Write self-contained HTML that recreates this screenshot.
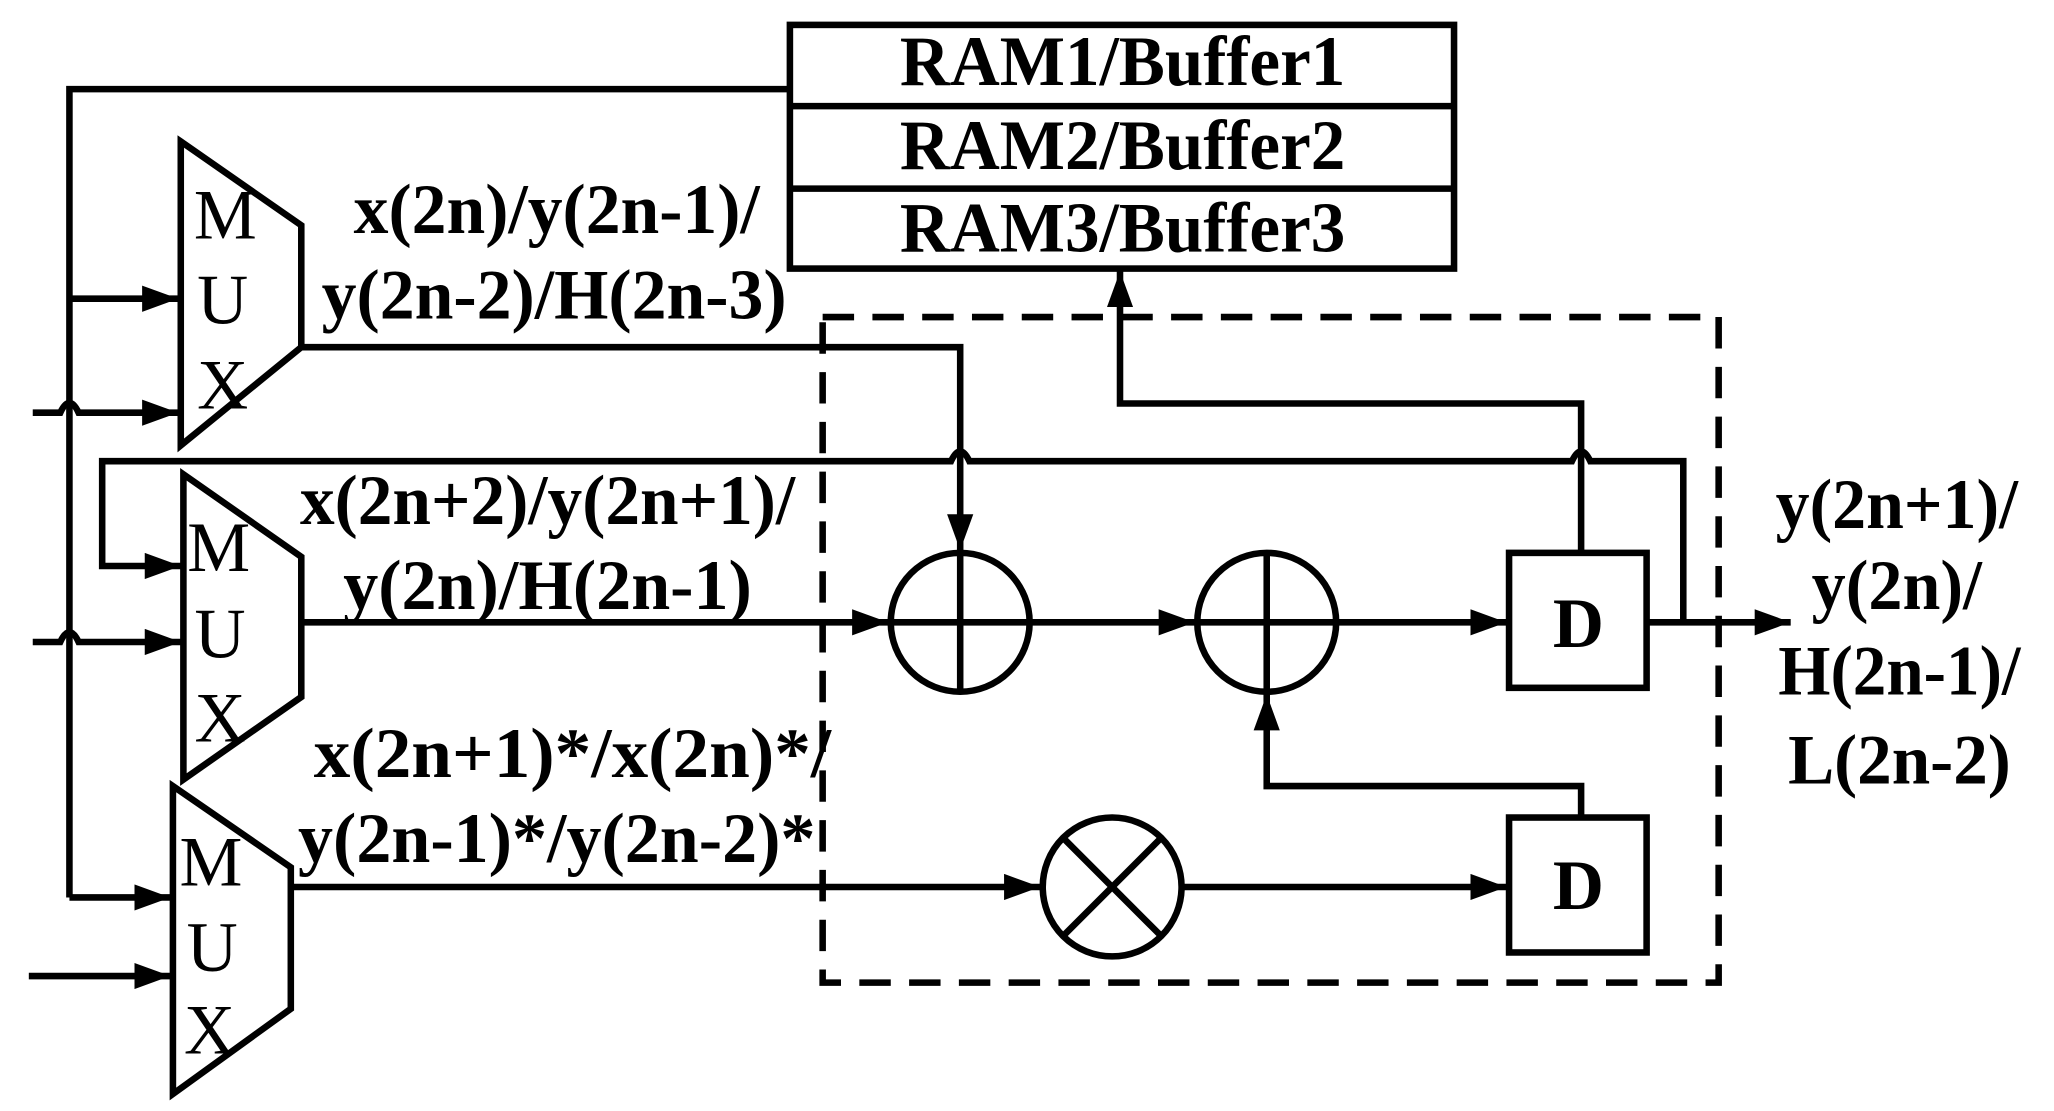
<!DOCTYPE html>
<html><head><meta charset="utf-8"><style>html,body{margin:0;padding:0;background:#fff}svg{display:block}
text{font-family:"Liberation Serif","Times New Roman",serif;font-weight:bold}
.r{font-weight:normal}</style></head>
<body>
<svg width="2054" height="1111" viewBox="0 0 1568 848" preserveAspectRatio="none" xmlns="http://www.w3.org/2000/svg">
<defs>
<marker id="a" markerWidth="5.5" markerHeight="4" refX="5.5" refY="2" orient="auto" markerUnits="strokeWidth"><path d="M0,0 L5.5,2 L0,4 Z" fill="#000"/></marker>
</defs>
<g fill="none" stroke="#000" stroke-width="5">
<rect x="603" y="19" width="507" height="186"/>
<line x1="603" y1="81" x2="1110" y2="81"/>
<line x1="603" y1="144" x2="1110" y2="144"/>
<rect x="628" y="242" width="684" height="508" stroke-dasharray="24,14"/>
<polygon points="138,108 230,172 230,265 138,340"/>
<polygon points="140,362 230,425 230,532 140,595"/>
<polygon points="132,600 222,662 222,770 132,835"/>
<polyline points="603,68 53,68 53,685"/>
<line x1="53" y1="228" x2="136" y2="228" marker-end="url(#a)"/>
<line x1="53" y1="685" x2="130" y2="685" marker-end="url(#a)"/>
<path d="M25,315 L46,315 Q53,300 60,315 L136,315" marker-end="url(#a)"/>
<path d="M25,490 L46,490 Q53,475 60,490 L138,490" marker-end="url(#a)"/>
<line x1="22" y1="745" x2="130" y2="745" marker-end="url(#a)"/>
<path d="M1285,475 L1285,352 L1214,352 Q1207,337 1200,352 L740,352 Q733,337 726,352 L78,352 L78,432 L138,432" marker-end="url(#a)"/>
<polyline points="230,265 733,265 733,420" marker-end="url(#a)"/>
<line x1="230" y1="475" x2="678" y2="475" marker-end="url(#a)"/>
<circle cx="733" cy="475" r="53"/>
<line x1="680" y1="475" x2="786" y2="475"/><line x1="733" y1="422" x2="733" y2="528"/>
<circle cx="967" cy="475" r="53"/>
<line x1="914" y1="475" x2="1020" y2="475"/><line x1="967" y1="422" x2="967" y2="528"/>
<line x1="786" y1="475" x2="912" y2="475" marker-end="url(#a)"/>
<line x1="1020" y1="475" x2="1150" y2="475" marker-end="url(#a)"/>
<rect x="1152" y="422" width="105" height="103"/>
<line x1="1257" y1="475" x2="1367" y2="475" marker-end="url(#a)"/>
<polyline points="1207,422 1207,308 855,308 855,207" marker-end="url(#a)"/>
<line x1="222" y1="677" x2="794" y2="677" marker-end="url(#a)"/>
<circle cx="849" cy="677" r="53"/>
<line x1="812" y1="640" x2="886" y2="714"/><line x1="886" y1="640" x2="812" y2="714"/>
<line x1="902" y1="677" x2="1150" y2="677" marker-end="url(#a)"/>
<rect x="1152" y="624" width="105" height="103"/>
<polyline points="1207,624 1207,600 967,600 967,530" marker-end="url(#a)"/>
</g>
<g style="font-size:54px" text-anchor="middle" fill="#000">
<text x="857" y="65" textLength="340" lengthAdjust="spacingAndGlyphs">RAM1/Buffer1</text>
<text x="857" y="129" textLength="340" lengthAdjust="spacingAndGlyphs">RAM2/Buffer2</text>
<text x="857" y="192" textLength="340" lengthAdjust="spacingAndGlyphs">RAM3/Buffer3</text>
<text class="r" x="172" y="182">M</text><text class="r" x="170" y="247">U</text><text class="r" x="170" y="312">X</text>
<text class="r" x="167" y="436">M</text><text class="r" x="168" y="502">U</text><text class="r" x="168" y="566">X</text>
<text class="r" x="161" y="676">M</text><text class="r" x="162" y="741">U</text><text class="r" x="160" y="804">X</text>
<text x="425" y="178" textLength="310" lengthAdjust="spacingAndGlyphs">x(2n)/y(2n-1)/</text>
<text x="423" y="243" textLength="355" lengthAdjust="spacingAndGlyphs">y(2n-2)/H(2n-3)</text>
<text x="418" y="400" textLength="378" lengthAdjust="spacingAndGlyphs">x(2n+2)/y(2n+1)/</text>
<text x="418" y="465" textLength="312" lengthAdjust="spacingAndGlyphs">y(2n)/H(2n-1)</text>
<text x="437" y="593" textLength="395" lengthAdjust="spacingAndGlyphs">x(2n+1)*/x(2n)*/</text>
<text x="425" y="658" textLength="395" lengthAdjust="spacingAndGlyphs">y(2n-1)*/y(2n-2)*</text>
<text x="1448" y="403" textLength="185" lengthAdjust="spacingAndGlyphs">y(2n+1)/</text>
<text x="1448" y="465" textLength="130" lengthAdjust="spacingAndGlyphs">y(2n)/</text>
<text x="1450" y="530" textLength="185" lengthAdjust="spacingAndGlyphs">H(2n-1)/</text>
<text x="1450" y="598" textLength="170" lengthAdjust="spacingAndGlyphs">L(2n-2)</text>
<text x="1205" y="494">D</text>
<text x="1205" y="694">D</text>
</g>
</svg>
</body></html>
